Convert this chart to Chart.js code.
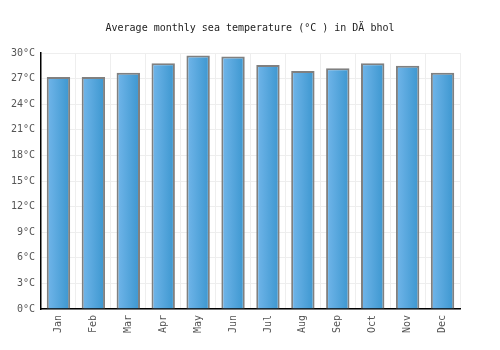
<!DOCTYPE html>
<html>
<head>
<meta charset="utf-8">
<script src="https://cdn.jsdelivr.net/npm/chart.js@4"></script>
<style>
  body { margin: 0; background: #fff; }
</style>
</head>
<body>
<canvas id="chart" width="500" height="350"></canvas>
<script>
// monthly sea temperature
const months = ["Jan", "Feb", "Mar", "Apr", "May", "Jun", "Jul", "Aug", "Sep", "Oct", "Nov", "Dec"];
const seaTemp = [27.2, 27.2, 27.7, 28.8, 29.7, 29.6, 28.6, 27.9, 28.2, 28.8, 28.5, 27.7];
const yTicks = [0, 3, 6, 9, 12, 15, 18, 21, 24, 27, 30];

const barShare = 0.67;

function barFill(ctx) {
  const chart = ctx.chart;
  const x = chart.scales.x;
  if (!chart.chartArea || !x || ctx.dataIndex === undefined) return "#55a6de";
  const mid = x.getPixelForValue(ctx.dataIndex);
  const half = (x.width / months.length) * barShare / 2;
  const g = chart.ctx.createLinearGradient(mid - half, 0, mid + half, 0);
  g.addColorStop(0, "#72b6ea");
  g.addColorStop(1, "#3b96cf");
  return g;
}

const chart = document.getElementById("chart");

new Chart(chart, {
  type: "bar",
  data: {
    labels: months,
    datasets: [
      {
        label: "Sea temperature",
        data: seaTemp,
        backgroundColor: barFill,
        borderColor: "#808080",
        borderWidth: 2,
        categoryPercentage: 1,
        barPercentage: barShare,
      },
    ],
  },
  options: {
    responsive: false,
    animation: false,
    plugins: {
      legend: { display: false },
      tooltip: { enabled: false },
      title: {
        display: true,
        text: "Average monthly sea temperature (°C ) in DÄ bhol",
        color: "#222",
        font: { family: "DejaVu Sans Mono", size: 10, weight: "normal" },
        padding: { top: 22, bottom: 19 },
      },
    },
    scales: {
      x: {
        grid: { color: "#eeeeee", drawTicks: false, offset: true },
        border: { color: "#000", width: 1.5 },
        ticks: {
          color: "#555",
          font: { family: "DejaVu Sans Mono", size: 10 },
          minRotation: 90,
          maxRotation: 90,
          padding: 6,
        },
        afterFit: (s) => { s.height = 41; },
      },
      y: {
        min: 0,
        max: 30,
        grid: { color: "#eeeeee", drawTicks: false },
        border: { color: "#000", width: 1.5 },
        afterBuildTicks: (s) => { s.ticks = yTicks.map((v) => ({ value: v })); },
        ticks: {
          color: "#555",
          font: { family: "DejaVu Sans Mono", size: 10 },
          padding: 6,
          callback: (v) => v + "°C",
        },
        afterFit: (s) => { s.width = 41; },
      },
      // empty right-hand gutter so the title stays centred on the canvas
      gutter: {
        position: "right",
        min: 0,
        max: 30,
        grid: { display: false },
        border: { display: false },
        ticks: { display: false },
        afterFit: (s) => { s.width = 40; },
      },
    },
  },
});
</script>
</body>
</html>
